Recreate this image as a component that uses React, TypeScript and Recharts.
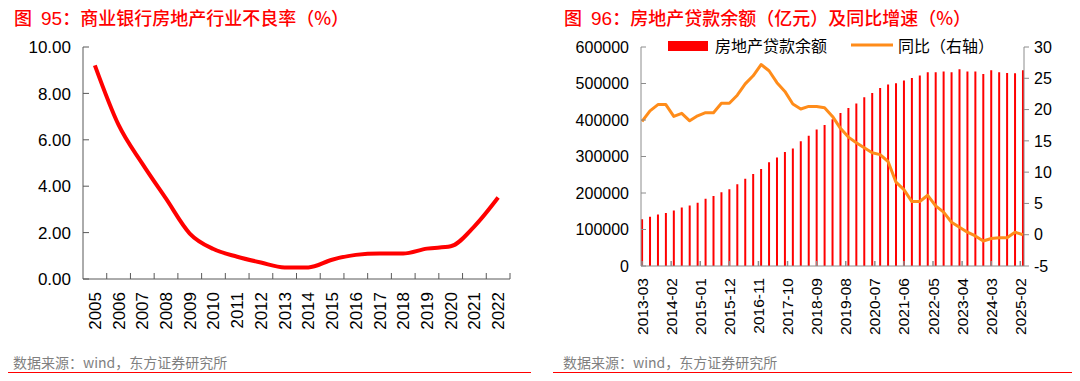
import React from 'react';
import { LineChart, ComposedChart, Line, Bar, XAxis, YAxis } from 'recharts';

const FONT = '"Liberation Sans", Arial, "Noto Sans CJK SC", sans-serif';
const CJK = '"Noto Sans CJK SC", "Liberation Sans", sans-serif';

// 图 95
const years = ['2005', '2006', '2007', '2008', '2009', '2010', '2011', '2012', '2013',
  '2014', '2015', '2016', '2017', '2018', '2019', '2020', '2021', '2022'];
const nplRatio = [9.21, 6.64, 4.97, 3.46, 1.96, 1.29, 0.96, 0.71, 0.5,
  0.5, 0.83, 1.04, 1.1, 1.1, 1.31, 1.41, 2.27, 3.51];
const nplTicks = [0, 2, 4, 6, 8, 10];

// 图 96
const quarters = [
  '2013-03', '2013-06', '2013-09', '2013-12', '2014-03', '2014-06', '2014-09', '2014-12',
  '2015-03', '2015-06', '2015-09', '2015-12', '2016-03', '2016-06', '2016-09', '2016-12',
  '2017-03', '2017-06', '2017-09', '2017-12', '2018-03', '2018-06', '2018-09', '2018-12',
  '2019-03', '2019-06', '2019-09', '2019-12', '2020-03', '2020-06', '2020-09', '2020-12',
  '2021-03', '2021-06', '2021-09', '2021-12', '2022-03', '2022-06', '2022-09', '2022-12',
  '2023-03', '2023-06', '2023-09', '2023-12', '2024-03', '2024-06', '2024-09', '2024-12',
  '2025-03',
];
const loanBalance = [
  128000, 135000, 141000, 145000, 152000, 160000, 166000, 173000,
  184000, 192000, 202000, 210000, 224000, 239000, 252000, 266000,
  284000, 297000, 312000, 322000, 342000, 357000, 374000, 386000,
  402000, 419000, 433000, 445000, 462000, 474000, 488000, 497000,
  501000, 508000, 515000, 522000, 531000, 531000, 533000, 531000,
  539000, 533000, 533000, 526000, 536000, 531000, 529000, 528000,
  536000,
];
const loanYoy = [
  18.1, 19.8, 20.8, 20.8, 18.9, 19.4, 18.2, 19.0,
  19.5, 19.5, 21.0, 21.0, 22.3, 24.1, 25.4, 27.2,
  26.2, 24.3, 22.9, 20.9, 20.1, 20.5, 20.5, 20.3,
  18.9, 17.0, 15.6, 14.7, 13.9, 13.1, 12.8, 11.7,
  8.4, 7.2, 5.3, 5.3, 6.3, 4.6, 3.6, 2.0,
  1.2, 0.4, -0.2, -1.0, -0.6, -0.5, -0.5, 0.4,
  0.0,
];
const dateTicks = ['2013-03', '2014-02', '2015-01', '2015-12', '2016-11', '2017-10', '2018-09',
  '2019-08', '2020-07', '2021-06', '2022-05', '2023-04', '2024-03', '2025-02'];
const balanceTicks = [0, 100000, 200000, 300000, 400000, 500000, 600000];
const yoyTicks = [-5, 0, 5, 10, 15, 20, 25, 30];

// months since 2013-03, used as the time axis
const monthIndex = (d: string) => {
  const [y, m] = d.split('-').map(Number);
  return (y - 2013) * 12 + m - 3;
};
const monthLabel = (i: number) => dateTicks.find((d) => monthIndex(d) === i) ?? '';

const nplData = years.map((year, i) => ({ year, v: nplRatio[i] }));
const loanData = quarters.map((q, i) => ({ m: monthIndex(q), bal: loanBalance[i], yoy: loanYoy[i] }));

const YearTick = (props: any) => {
  const { x, y, payload } = props;
  const half = payload.offset ?? 12;
  return (
    <g>
      <line x1={x + half} x2={x + half} y1={y} y2={y - 6} stroke="#595959" />
      <text transform={`translate(${x + 6},${y + 13}) rotate(-90)`} textAnchor="end" fontSize={17} fill="#000">
        {payload.value}
      </text>
    </g>
  );
};

const NplTick = (props: any) => {
  const { x, y, payload } = props;
  return (
    <g>
      <line x1={x} x2={x + 6} y1={y} y2={y} stroke="#595959" />
      <text x={x - 12} y={y} dy="0.36em" textAnchor="end" fontSize={17} fill="#000">
        {Number(payload.value).toFixed(2)}
      </text>
    </g>
  );
};

const DateTick = (props: any) => {
  const { x, y, payload } = props;
  return (
    <g>
      <line x1={x} x2={x} y1={y} y2={y - 5} stroke="#8c8c8c" strokeWidth={1.5} />
      <text transform={`translate(${x + 5.5},${y + 12}) rotate(-90)`} textAnchor="end" fontSize={15.5} fill="#000">
        {monthLabel(payload.value)}
      </text>
    </g>
  );
};

const BalanceTick = (props: any) => {
  const { x, y, payload } = props;
  return (
    <g>
      <line x1={x} x2={x + 5} y1={y} y2={y} stroke="#8c8c8c" />
      <text x={x - 12} y={y} dy="0.36em" textAnchor="end" fontSize={16} fill="#000">
        {payload.value}
      </text>
    </g>
  );
};

const Rule = ({ left, top, width }: { left: number; top: number; width: number }) => (
  <div style={{ position: 'absolute', left, top, width, height: 2, background: '#ff0000' }} />
);

const Title = ({ left, num, text }: { left: number; num: string; text: string }) => (
  <div style={{ position: 'absolute', left, top: 5, fontFamily: CJK, fontSize: 18, fontWeight: 500, color: '#ff0000', whiteSpace: 'nowrap', lineHeight: '24px' }}>
    <span>图</span>
    <span style={{ marginLeft: 9, fontFamily: FONT, fontSize: 19 }}>{num}</span>
    <span>：{text}</span>
  </div>
);

const Source = ({ left }: { left: number }) => (
  <div style={{ position: 'absolute', left, top: 352, fontFamily: CJK, fontSize: 14, color: '#7f7f7f', whiteSpace: 'nowrap', lineHeight: '20px' }}>
    数据来源：wind，东方证券研究所
  </div>
);

export default function App() {
  return (
    <div style={{ position: 'relative', width: 1080, height: 381, margin: -8, background: '#fff', fontFamily: FONT, overflow: 'hidden' }}>
      <Rule left={3} top={4} width={528} />
      <Rule left={553} top={4} width={524} />
      <Rule left={3} top={372} width={528} />
      <Rule left={553} top={372} width={524} />
      <Title left={14} num="95" text="商业银行房地产行业不良率（%）" />
      <Title left={564} num="96" text="房地产贷款余额（亿元）及同比增速（%）" />
      <Source left={13} />
      <Source left={563} />

      <div style={{ position: 'absolute', left: 0, top: 0 }}>
        <LineChart width={540} height={381} data={nplData} margin={{ top: 47, right: 30, bottom: 30, left: 0 }}>
          <XAxis dataKey="year" scale="band" height={72} interval={0} tickLine={false} tickSize={0} tickMargin={0}
            axisLine={{ stroke: '#595959' }} tick={(p: any) => <YearTick {...p} />} />
          <YAxis width={83} domain={[0, 10]} ticks={nplTicks} interval={0} tickLine={false} tickSize={0} tickMargin={0}
            axisLine={{ stroke: '#595959' }} tick={(p: any) => <NplTick {...p} />} />
          <Line dataKey="v" type="monotone" stroke="#ff0000" strokeWidth={4} dot={false} isAnimationActive={false} />
        </LineChart>
      </div>

      <div style={{ position: 'absolute', left: 540, top: 0 }}>
        <ComposedChart width={540} height={381} data={loanData} margin={{ top: 47, right: 16, bottom: 35, left: 0 }}>
          <XAxis dataKey="m" type="number" domain={[-0.4, 144.4]} allowDataOverflow ticks={dateTicks.map(monthIndex)}
            interval={0} height={80} tickLine={false} tickSize={0} tickMargin={0}
            axisLine={{ stroke: '#8c8c8c' }} tick={(p: any) => <DateTick {...p} />} />
          <YAxis yAxisId="left" width={101} domain={[0, 600000]} ticks={balanceTicks} interval={0}
            tickLine={false} tickSize={0} tickMargin={0} axisLine={{ stroke: '#8c8c8c' }}
            tick={(p: any) => <BalanceTick {...p} />} />
          <YAxis yAxisId="right" orientation="right" width={40} domain={[-5, 30]} ticks={yoyTicks} interval={0}
            tickSize={5} tickMargin={5} axisLine={{ stroke: '#8c8c8c' }} tickLine={{ stroke: '#8c8c8c' }}
            tick={{ fill: '#000', fontSize: 16 }} />
          <Bar yAxisId="left" dataKey="bal" fill="#ff0000" barSize={2} isAnimationActive={false} />
          <Line yAxisId="right" dataKey="yoy" type="linear" stroke="#ff8c1a" strokeWidth={3} strokeLinejoin="round"
            dot={false} isAnimationActive={false} />
        </ComposedChart>
      </div>

      {/* legend of 图 96 */}
      <svg style={{ position: 'absolute', left: 660, top: 32 }} width={340} height={26}>
        <rect x={8} y={9} width={40} height={10} fill="#ff0000" />
        <text x={55} y={14} dy="0.36em" fontFamily={CJK} fontSize={16} fill="#000">房地产贷款余额</text>
        <line x1={191} x2={233} y1={13} y2={13} stroke="#ff8c1a" strokeWidth={3} />
        <text x={238} y={14} dy="0.36em" fontFamily={CJK} fontSize={16} fill="#000">同比（右轴）</text>
      </svg>
    </div>
  );
}
